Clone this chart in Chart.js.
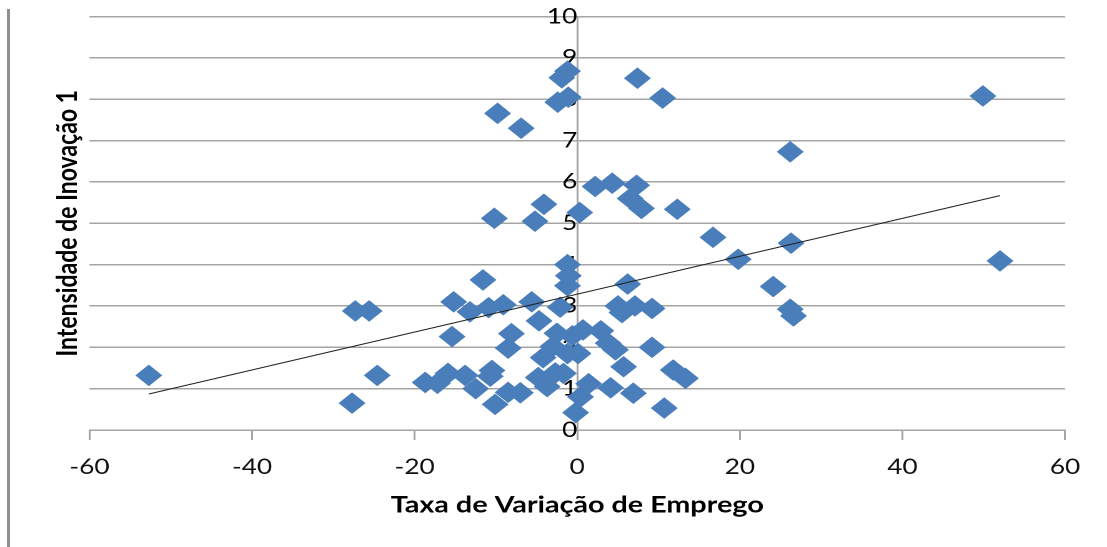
<!DOCTYPE html>
<html>
<head>
<meta charset="utf-8">
<script src="https://cdn.jsdelivr.net/npm/chart.js@4.4.1/dist/chart.umd.min.js"></script>
<style>
html,body{margin:0;padding:0;background:#fff;overflow:hidden;width:1107px;height:547px;}
#frame{position:absolute;left:7px;top:9px;width:3px;bottom:0;background:#8e8e8e;}
#wrap{position:absolute;left:0;top:0;width:886px;height:547px;transform:scaleX(1.24944);transform-origin:0 0;}
</style>
</head>
<body>
<div id="frame"></div>
<div id="wrap"><canvas id="c"></canvas></div>
<script>
// Taxa de Variação de Emprego (x) vs Intensidade de Inovação 1 (y)
const empregoX = [
  -52.7, -27.7, -27.3, -25.6, -24.6, -18.7, -17.2, -15.9, -15.4, -15.2,
  -13.8, -13.2, -12.5, -11.6, -10.9, -10.5, -10.7, -10.2, -10.1, -9.8,
  -9.1, -8.5, -8.1, -8.5, -7.0, -6.9, -5.6, -5.2, -4.7, -4.1,
  -4.8, -3.7, -4.2, -2.7, -3.0, -2.5, -2.4, -2.1, -1.9, -1.2,
  -1.1, -1.2, -1.1, -1.2, -1.7, -1.2, -0.6, 0.1, 0.7, -0.2,
  0.4, 0.3, 1.4, 2.2, 2.9, 3.8, 4.7, 4.3, 4.1, 5.0,
  5.5, 5.7, 6.2, 6.5, 7.1, 7.4, 7.3, 6.9, 7.9, 9.2,
  9.2, 10.5, 10.7, 11.8, 12.3, 13.3, 16.7, 19.8, 24.1, 26.2,
  26.3, 26.2, 26.6, 49.9, 52.0
];
const inovacaoY = [
  1.32, 0.65, 2.88, 2.88, 1.32, 1.15, 1.13, 1.37, 2.26, 3.10,
  1.32, 2.86, 1.00, 3.63, 2.96, 1.44, 1.30, 5.12, 0.62, 7.66,
  3.03, 1.98, 2.33, 0.91, 0.90, 7.30, 3.10, 5.05, 2.64, 5.46,
  1.27, 1.05, 1.75, 1.38, 2.02, 2.34, 7.93, 2.97, 8.52, 8.68,
  8.05, 4.00, 3.73, 3.49, 1.37, 1.85, 2.28, 1.85, 2.42, 0.42,
  0.80, 5.26, 1.12, 5.89, 2.40, 2.10, 1.94, 5.97, 1.02, 3.00,
  2.84, 1.53, 3.53, 5.60, 3.00, 8.51, 5.92, 0.89, 5.36, 2.94,
  2.00, 8.03, 0.53, 1.45, 5.34, 1.25, 4.66, 4.13, 3.47, 6.73,
  4.52, 2.92, 2.76, 8.08, 4.09
];
// Linear trend line end points
const trendX = [-52.7, 52.0];
const trendY = [0.87, 5.67];
// Axis ticks
const xTicks = [-60, -40, -20, 0, 20, 40, 60];
const yTicks = [0, 1, 2, 3, 4, 5, 6, 7, 8, 9, 10];

const xTitle = 'Taxa de Variação de Emprego';
const yTitle = 'Intensidade de Inovação 1';

function draw() {
  const pts = empregoX.map((x, i) => ({x: x, y: inovacaoY[i]}));
  const trend = trendX.map((x, i) => ({x: x, y: trendY[i]}));
  const grid = '#a4a4a4';
  new Chart(document.getElementById('c'), {
    type: 'scatter',
    data: {
      datasets: [
        {label: 'Tendência', data: trend, showLine: true, borderColor: '#222', borderWidth: 1,
         pointRadius: 0, pointHoverRadius: 0, fill: false, order: 0},
        {label: yTitle, data: pts, pointStyle: 'rectRot', pointRadius: 10.8, pointHoverRadius: 10.8,
         backgroundColor: '#4a7ebb', borderColor: '#4a7ebb', borderWidth: 0, order: 1}
      ]
    },
    options: {
      responsive: true,
      maintainAspectRatio: false,
      animation: false,
      devicePixelRatio: 2,
      events: [],
      layout: {padding: {left: 37, right: 33.6, top: 14, bottom: 28.2}},
      plugins: {legend: {display: false}, tooltip: {enabled: false}},
      scales: {
        x: {
          type: 'linear', position: 'bottom', min: xTicks[0], max: xTicks[xTicks.length - 1],
          afterBuildTicks: (s) => { s.ticks = xTicks.map(v => ({value: v})); },
          ticks: {font: {family: 'Lato', size: 21}, color: '#111', padding: 14.4, maxRotation: 0},
          grid: {drawOnChartArea: false, drawTicks: true, tickLength: 10, color: grid, lineWidth: 1.5},
          border: {display: true, color: grid, width: 1.5},
          title: {display: true, text: xTitle, color: '#000',
                  font: {family: 'Lato', size: 23, weight: 'bold'}, padding: {top: -2.8, bottom: 0}}
        },
        y: {
          type: 'linear', position: {x: 0}, min: yTicks[0], max: yTicks[yTicks.length - 1],
          afterBuildTicks: (s) => { s.ticks = yTicks.map(v => ({value: v})); },
          ticks: {font: {family: 'Lato', size: 21}, color: '#000', padding: 4},
          grid: {drawTicks: false, color: grid, lineWidth: 1.5},
          border: {display: true, color: grid, width: 1.5}
        },
        yTitleAxis: {
          axis: 'y', type: 'linear', position: 'left', min: 0, max: 10,
          ticks: {display: false},
          grid: {display: false, drawTicks: false},
          border: {display: false},
          title: {display: true, text: yTitle, color: '#000',
                  font: {family: 'Lato', size: 23, weight: 'bold'}, padding: {top: 3.5, bottom: 3.5}}
        }
      }
    }
  });
}
Promise.all([document.fonts.load('21px Lato'), document.fonts.load('bold 23px Lato')])
  .then(draw, draw);
</script>
</body>
</html>
